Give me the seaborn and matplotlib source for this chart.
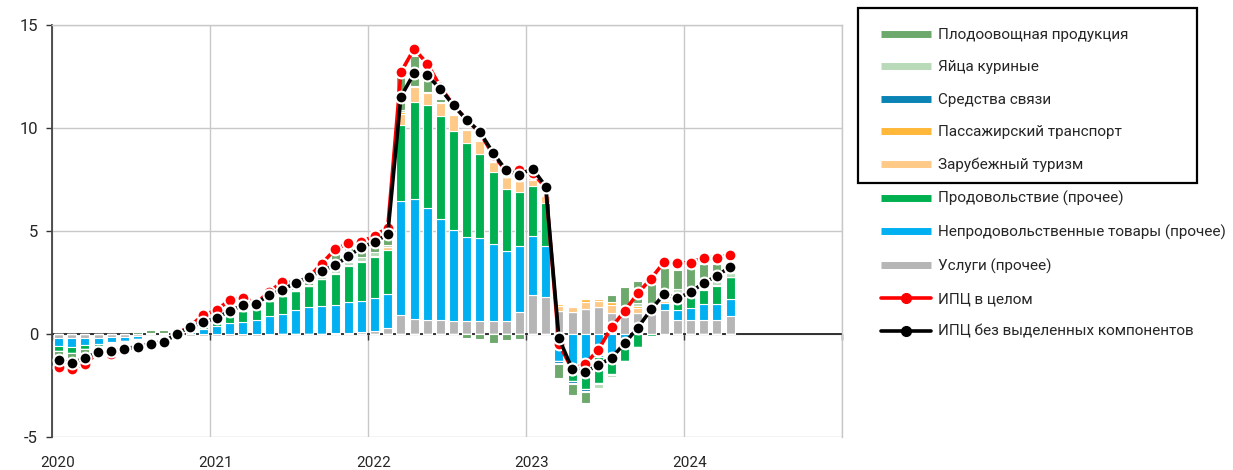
import matplotlib
matplotlib.use("Agg")
import matplotlib.pyplot as plt
import numpy as np
import seaborn as sns
from matplotlib.lines import Line2D
from matplotlib.patches import Rectangle

# Monthly data, Jan 2020 .. Apr 2024 (contributions, p.p.)
start_year = 2020
year_labels = ["2020", "2021", "2022", "2023", "2024"]

services = [-0.17, -0.17, -0.17, -0.17, -0.15, -0.15, -0.10, 0.0, 0.0, 0.0, -0.10, -0.10,
            -0.12, -0.12, -0.12, -0.10, -0.03, 0.0, 0.0, 0.0, 0.02, 0.03, 0.05, 0.10,
            0.15, 0.30, 0.90, 0.75, 0.70, 0.68, 0.65, 0.62, 0.65, 0.65, 0.65, 1.05,
            1.90, 1.80, 1.10, 1.05, 1.20, 1.30, 1.00, 0.85, 1.00, 1.00, 1.15, 0.70,
            0.70, 0.70, 0.70, 0.85]
nonfood = [-0.40, -0.45, -0.38, -0.30, -0.25, -0.20, -0.12, 0.0, 0.0, 0.02, 0.10, 0.25,
           0.38, 0.52, 0.60, 0.70, 0.85, 0.95, 1.15, 1.32, 1.32, 1.38, 1.50, 1.50,
           1.58, 1.65, 5.55, 5.78, 5.40, 4.90, 4.40, 4.10, 4.00, 3.74, 3.40, 3.20,
           2.85, 2.45, -1.30, -1.55, -1.60, -1.10, -1.10, -0.30, 0.0, 0.0, 0.35, 0.45,
           0.55, 0.75, 0.75, 0.85]
food = [-0.25, -0.30, -0.20, -0.10, -0.05, 0.0, 0.0, 0.05, 0.05, 0.10, 0.30, 0.50,
        0.45, 0.37, 0.50, 0.50, 0.75, 0.90, 0.95, 1.00, 1.35, 1.50, 1.75, 1.90,
        2.00, 2.15, 3.70, 4.73, 5.00, 5.00, 4.80, 4.55, 4.10, 3.48, 3.00, 2.63,
        2.42, 2.10, 0.0, -0.75, -1.05, -1.30, -0.85, -1.00, -0.65, -0.12, -0.05, 0.75,
        0.60, 0.70, 0.90, 1.05]
tourism = [0.0] * 12 + \
          [0.0] * 9 + [0.05, 0.05, 0.05] + \
          [0.05, 0.10, 0.55, 0.75, 0.60, 0.65, 0.80, 0.65, 0.60, 0.50, 0.55, 0.55] + \
          [0.30, 0.35, 0.25, 0.25, 0.35, 0.30, 0.40, 0.20, 0.25, 0.20, 0.10, 0.05] + \
          [0.05, 0.05, 0.05, 0.0]
transport = [0.0] * 24 + \
            [0.0, 0.0, 0.10, 0.05, 0.05, 0.05, 0.05, 0.05, 0.05, 0.0, 0.0, 0.0] + \
            [0.10, 0.05, 0.10, 0.08, 0.15, 0.10, 0.15, 0.05, 0.10, 0.15, 0.05, 0.0] + \
            [0.0, 0.0, 0.0, 0.0]
comm = [0.0] * 36 + \
       [0.0, 0.0, -0.10, -0.10, -0.10, -0.05, -0.05, 0.0, 0.0, 0.0, 0.05, 0.0] + \
       [0.0, 0.0, 0.0, 0.0]
eggs = [0.0] * 10 + [0.05, 0.10] + \
       [0.10, 0.15, 0.10, 0.05, 0.10, 0.10, 0.05, 0.05, 0.10, 0.15, 0.15, 0.20] + \
       [0.20, 0.10, 0.05, 0.0, 0.0, 0.0, 0.0, 0.0, 0.0, 0.0, 0.0, 0.0] + \
       [0.0, 0.0, -0.05, -0.05, -0.05, -0.15, -0.08, 0.10, 0.15, 0.10, 0.20, 0.25] + \
       [0.35, 0.30, 0.20, 0.20]
fruits = [-0.30, -0.30, -0.25, -0.10, 0.0, 0.0, 0.08, 0.15, 0.15, 0.10, 0.30, 0.35,
          0.30, 0.70, 0.50, 0.20, 0.20, 0.45, 0.20, 0.25, 0.55, 0.95, 0.90, 0.70,
          0.80, 0.60, 1.85, 1.45, 0.75, 0.15, 0.0, -0.20, -0.25, -0.45, -0.30, -0.25,
          0.0, 0.0, -0.70, -0.50, -0.55, 0.0, 0.35, 1.10, 1.05, 1.10, 1.30, 0.90,
          0.95, 0.90, 0.80, 0.50]

cpi_total = [-1.58, -1.69, -1.45, -0.90, -0.97, -0.75, -0.62, -0.48, -0.37, 0.0, 0.40, 0.92,
             1.16, 1.65, 1.77, 1.50, 2.05, 2.53, 2.48, 2.76, 3.42, 4.11, 4.40, 4.47,
             4.77, 5.16, 12.71, 13.84, 13.13, 12.00, 11.10, 10.40, 9.76, 8.70, 7.90, 7.98,
             7.82, 7.10, -0.48, -1.70, -1.45, -0.76, 0.32, 1.13, 1.98, 2.69, 3.50, 3.44,
             3.47, 3.71, 3.71, 3.84]
cpi_core = [-1.26, -1.42, -1.16, -0.89, -0.84, -0.73, -0.61, -0.48, -0.37, 0.0, 0.35, 0.58,
            0.77, 1.13, 1.39, 1.48, 1.89, 2.16, 2.48, 2.76, 3.08, 3.34, 3.77, 4.22,
            4.46, 4.84, 11.52, 12.66, 12.55, 11.90, 11.10, 10.39, 9.81, 8.79, 7.94, 7.74,
            8.03, 7.16, -0.20, -1.69, -1.85, -1.50, -1.16, -0.44, 0.31, 1.19, 1.94, 1.73,
            2.03, 2.48, 2.82, 3.26]

# stack order: bottom -> top (legend shows it reversed)
components = [
    ("Услуги (прочее)", services, "#b6b6b6"),
    ("Непродовольственные товары (прочее)", nonfood, "#00b0f0"),
    ("Продовольствие (прочее)", food, "#00b050"),
    ("Зарубежный туризм", tourism, "#ffca88"),
    ("Пассажирский транспорт", transport, "#ffb83a"),
    ("Средства связи", comm, "#0b84b5"),
    ("Яйца куриные", eggs, "#b8dab9"),
    ("Плодоовощная продукция", fruits, "#6da96d"),
]

sns.set_theme(style="white")
plt.rcParams["font.family"] = ["Roboto", "DejaVu Sans"]

W, H = 1233, 470
fig = plt.figure(figsize=(W / 100, H / 100), dpi=100)
ax = fig.add_axes([52 / W, 1 - 437 / H, (842 - 52) / W, (437 - 25) / H])

n = len(cpi_total)
x = start_year + (np.arange(n) + 0.5) / 12
width = 0.68 / 12

pos_base = np.zeros(n)
neg_base = np.zeros(n)
for name, vals, color in components:
    v = np.asarray(vals, dtype=float)
    pos = np.where(v > 0, v, 0)
    neg = np.where(v < 0, v, 0)
    ax.bar(x, pos, width=width, bottom=pos_base, color=color,
           edgecolor="white", linewidth=0.8, zorder=2)
    ax.bar(x, neg, width=width, bottom=neg_base, color=color,
           edgecolor="white", linewidth=0.8, zorder=2)
    pos_base += pos
    neg_base += neg

line_kw = dict(marker="o", markersize=8.5, markeredgecolor="white",
               markeredgewidth=1.5, linewidth=2.6, legend=False, ax=ax)
sns.lineplot(x=x, y=cpi_total, color="#ff0000", zorder=3, **line_kw)
sns.lineplot(x=x, y=cpi_core, color="black", zorder=4, **line_kw)

ax.set_xlim(2020, 2025)
ax.set_ylim(-5, 15)
ax.set_yticks([-5, 0, 5, 10, 15])
ax.set_yticklabels(["-5", "0", "5", "10", "15"], fontsize=12)
ax.set_xticks(np.arange(2020, 2026))
ax.set_xticklabels([""] * 6)
ax.set_xticks(np.arange(2020, 2025) + 0.035, minor=True)
ax.set_xticklabels(year_labels, minor=True, fontsize=12)
ax.tick_params(axis="x", which="major", direction="out", length=4, width=1,
               color="#333333", bottom=True)
ax.tick_params(axis="x", which="minor", length=0, pad=88)
ax.tick_params(axis="y", direction="out", length=4, width=1, color="#333333",
               left=True, pad=6)
ax.set_xlabel("")
ax.set_ylabel("")

ax.grid(True, which="major", color="#c8c8c8", linewidth=1)
ax.set_axisbelow(True)
ax.spines["bottom"].set_position(("data", 0))
ax.spines["bottom"].set_color("#222222")
ax.spines["bottom"].set_linewidth(1.3)
ax.spines["bottom"].set_zorder(1.5)
ax.spines["left"].set_color("#444444")
ax.spines["left"].set_linewidth(1.3)
for s in ("top", "right"):
    ax.spines[s].set_color("#c8c8c8")
    ax.spines[s].set_linewidth(1)

# legend
handles = []
for name, vals, color in components[::-1]:
    handles.append(Line2D([], [], color=color, lw=5, solid_capstyle="butt", label=name))
handles.append(Line2D([], [], color="#ff0000", lw=2.6, marker="o", markersize=7,
                      label="ИПЦ в целом"))
handles.append(Line2D([], [], color="black", lw=2.6, marker="o", markersize=7,
                      label="ИПЦ без выделенных компонентов"))
fig.legend(handles=handles, loc="upper left", bbox_to_anchor=(881 / W, 1 - 28 / H),
           frameon=False, fontsize=11, handlelength=3.3, handletextpad=0.4,
           labelspacing=1.21, borderpad=0, borderaxespad=0)
fig.patches.append(Rectangle((858 / W, 1 - 183 / H), (1197 - 858) / W, (183 - 8) / H,
                             transform=fig.transFigure, fill=False,
                             edgecolor="black", linewidth=1.6))

fig.savefig("out.png", dpi=100)
